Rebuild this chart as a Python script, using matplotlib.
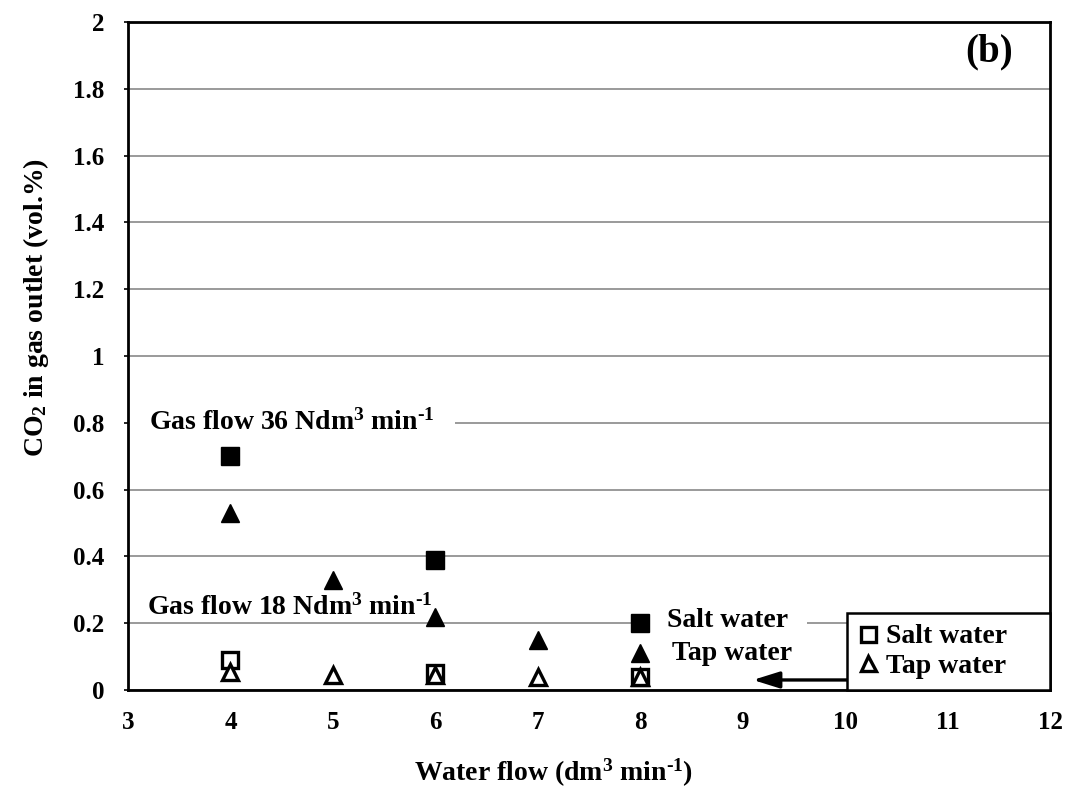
import matplotlib
matplotlib.use("Agg")
import matplotlib.pyplot as plt

plt.rcParams['font.family'] = ['Liberation Serif', 'DejaVu Serif']
plt.rcParams['font.weight'] = 'bold'
plt.rcParams['mathtext.fontset'] = 'custom'
plt.rcParams['mathtext.rm'] = 'Liberation Serif:bold'
plt.rcParams['mathtext.default'] = 'rm'

# Gas flow 36 Ndm3/min (filled markers)
x_salt_36 = [4, 6, 8]
y_salt_36 = [0.70, 0.39, 0.20]
x_tap_36 = [4, 5, 6, 7, 8]
y_tap_36 = [0.53, 0.33, 0.22, 0.15, 0.11]

# Gas flow 18 Ndm3/min (open markers)
x_salt_18 = [4, 6, 8]
y_salt_18 = [0.09, 0.05, 0.04]
x_tap_18 = [4, 5, 6, 7, 8]
y_tap_18 = [0.055, 0.045, 0.045, 0.04, 0.04]

x_ticks = [3, 4, 5, 6, 7, 8, 9, 10, 11, 12]
y_ticks = [0, 0.2, 0.4, 0.6, 0.8, 1.0, 1.2, 1.4, 1.6, 1.8, 2.0]
y_tick_labels = ["0", "0.2", "0.4", "0.6", "0.8", "1", "1.2", "1.4", "1.6", "1.8", "2"]

FS = 20

fig = plt.figure(figsize=(10.73, 7.92), dpi=100)
ax = fig.add_axes([0.1193, 0.1288, 0.8593, 0.8434])

ax.set_xlim(3, 12)
ax.set_ylim(0, 2)
ax.set_xticks(x_ticks)
ax.set_yticks(y_ticks)
ax.set_yticklabels(y_tick_labels)
ax.tick_params(axis='x', length=0, pad=15, labelsize=18)
ax.tick_params(axis='y', length=3, width=1.2, pad=14, labelsize=18)
for lab in ax.get_xticklabels() + ax.get_yticklabels():
    lab.set_fontweight('bold')

ax.set_axisbelow(True)
ax.yaxis.grid(True, color='#9a9a9a', linewidth=1.4)
for sp in ax.spines.values():
    sp.set_color('black')
    sp.set_linewidth(2)

ax.plot(x_salt_36, y_salt_36, ls='none', marker='s', ms=13, color='black', zorder=4)
ax.plot(x_tap_36, y_tap_36, ls='none', marker='^', ms=13, color='black', zorder=4)
h_salt, = ax.plot(x_salt_18, y_salt_18, ls='none', marker='s', ms=12, mfc='white',
                  mec='black', mew=2.4, zorder=4, label='Salt water')
h_tap, = ax.plot(x_tap_18, y_tap_18, ls='none', marker='^', ms=12, mfc='white',
                 mec='black', mew=2.4, zorder=5, label='Tap water')

ax.set_xlabel(r"Water flow (dm$^{3}$ min$^{\text{-1}}$)", fontsize=FS, fontweight='bold')
ax.set_ylabel(r"CO$_{2}$ in gas outlet (vol.%)", fontsize=FS, fontweight='bold')
ax.xaxis.set_label_coords(0.462, -0.1)
ax.yaxis.set_label_coords(-0.083, 0.573)

ax.text(3.205, 0.8, r"Gas flow 36 Ndm$^{3}$ min$^{\text{-1}}$", fontsize=FS, fontweight='bold',
        ha='left', va='center', zorder=2,
        bbox=dict(boxstyle='square,pad=0.75', facecolor='white', edgecolor='none'))
ax.text(3.19, 0.248, r"Gas flow 18 Ndm$^{3}$ min$^{\text{-1}}$", fontsize=FS, fontweight='bold',
        ha='left', va='center', zorder=3)
ax.text(8.26, 0.207, "Salt water", fontsize=FS, fontweight='bold', ha='left', va='center',
        zorder=2, bbox=dict(boxstyle='square,pad=0.7', facecolor='white', edgecolor='none'))
ax.text(8.31, 0.108, "Tap water", fontsize=FS, fontweight='bold', ha='left', va='center',
        zorder=3)
ax.text(11.41, 1.91, "(b)", fontsize=28, fontweight='bold', ha='center', va='center')

ax.annotate("", xy=(9.1, 0.03), xytext=(10.02, 0.03),
            arrowprops=dict(arrowstyle='-|>,head_length=0.8,head_width=0.25', color='black',
                            lw=2.4, mutation_scale=20, shrinkA=0, shrinkB=0),
            zorder=6)

leg = ax.legend(handles=[h_salt, h_tap], loc='lower left', bbox_to_anchor=(0.78, 0.0, 0.22, 0.112),
                mode='expand', borderaxespad=0, fancybox=False, edgecolor='black', framealpha=1,
                prop={'size': FS, 'weight': 'bold'}, handlelength=0.7, handletextpad=0.3,
                markerscale=0.9, labelspacing=0.15, borderpad=0.4)
leg.get_frame().set_linewidth(1.8)
leg.set_zorder(7)

fig.savefig("out.png", dpi=100)
